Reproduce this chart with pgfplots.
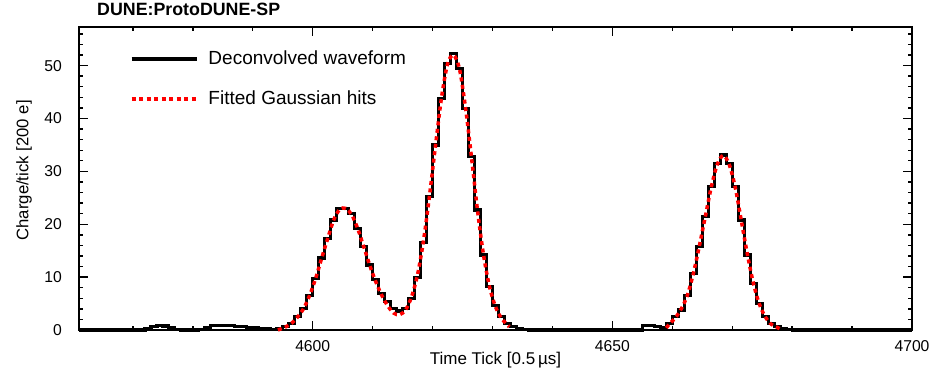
\documentclass[border=0pt]{standalone}
\usepackage{fontspec}
\setmainfont{Liberation Sans}
\usepackage{pgfplots}
\pgfplotsset{compat=1.18}

\begin{document}
\begin{tikzpicture}
\useasboundingbox (-79pt,-40pt) rectangle (865pt,330pt);
\begin{axis}[
  at={(0pt,0pt)}, anchor=south west,
  scale only axis, width=833pt, height=303pt,
  xmin=4561, xmax=4700, ymin=0, ymax=57.3,
  clip=false,
  axis line style={line width=2pt},
  xtick={4600,4650,4700},
  minor xtick={4570,4580,4590,4610,4620,4630,4640,4660,4670,4680,4690},
  ytick={0,10,...,50},
  minor ytick={2,4,6,8,12,14,16,18,22,24,26,28,32,34,36,38,42,44,46,48,52,54,56},
  tick pos=both, xticklabel pos=lower, yticklabel pos=left,
  tick align=inside,
  major tick length=9pt, minor tick length=4.5pt,
  every tick/.style={black, line width=1.4pt},
  /pgf/number format/assume math mode=true,
  /pgf/number format/1000 sep={},
  ticklabel style={font=\fontsize{15.7}{18}\selectfont, inner sep=0pt},
  xticklabel style={anchor=north, yshift=-10pt},
  yticklabel style={anchor=east, xshift=-17pt},
  title={DUNE:ProtoDUNE-SP},
  title style={at={(axis description cs:0.0216,1)}, anchor=base west, yshift=5pt, inner sep=0pt, font=\fontsize{17.8}{20}\selectfont\bfseries},
  xlabel={Time Tick [0.5\,µs]},
  xlabel style={at={(axis description cs:0.5,-0.099)}, anchor=center, inner sep=0pt, font=\fontsize{17}{20}\selectfont},
  ylabel={Charge/tick [200 e]},
  ylabel style={at={(axis description cs:-0.066,0.527)}, anchor=center, inner sep=0pt, font=\fontsize{16.7}{20}\selectfont},
  legend style={at={(axis description cs:0.0612,0.924)}, anchor=north west, draw=none, fill=none, inner sep=0pt, outer sep=0pt, row sep=22pt, column sep=10pt, font=\fontsize{19}{22}\selectfont, nodes={inner sep=0pt, text height=14pt, text depth=4pt}},
  legend cell align=left,
]
\addplot[black, line width=3.2pt, const plot, line join=miter,
  legend image code/.code={\draw[black, line width=3.2pt] (0pt,0pt) -- (65pt,0pt);}]
coordinates {
(4561,0) (4571,0) (4572,0.3) (4573,0.7) (4574,0.85) (4575,0.75) (4576,0.4) (4577,0.1) (4578,0)
(4581,0.1) (4582,0.5) (4583,0.8) (4584,0.9) (4585,0.9) (4586,0.8) (4587,0.7) (4588,0.6) (4589,0.5)
(4590,0.4) (4591,0.3) (4592,0.2) (4593,0.15) (4594,0.2) (4595,0.6) (4596,1.3) (4597,2.5) (4598,4.1)
(4599,6.6) (4600,9.8) (4601,13.6) (4602,17.3) (4603,20.8) (4604,23.0) (4605,23.0) (4606,22.0)
(4607,19.2) (4608,15.8) (4609,12.3) (4610,9.5) (4611,6.9) (4612,5.4) (4613,4.1) (4614,3.6)
(4615,4.1) (4616,6.0) (4617,10.0) (4618,16.5) (4619,25.2) (4620,35.0) (4621,43.8) (4622,50.4)
(4623,52.3) (4624,49.5) (4625,41.9) (4626,32.8) (4627,22.7) (4628,14.2) (4629,8.2) (4630,4.7)
(4631,2.5) (4632,1.3) (4633,0.6) (4634,0.3) (4635,0.1) (4636,0) (4654,0) (4655,0.8) (4656,0.8)
(4657,0.6) (4658,0.5) (4659,1.3) (4660,2.5) (4661,3.8) (4662,6.6) (4663,10.7) (4664,15.8)
(4665,21.4) (4666,27.1) (4667,31.5) (4668,33.1) (4669,31.5) (4670,27.1) (4671,20.8) (4672,14.2)
(4673,8.8) (4674,5.0) (4675,2.5) (4676,1.3) (4677,0.6) (4678,0.3) (4679,0.1) (4680,0) (4700,0)
};
\addlegendentry{Deconvolved waveform}
\addplot[red, line width=3.5pt, smooth, dash pattern=on 4pt off 3.5pt,
  legend image code/.code={\draw[red, line width=3.5pt, dash pattern=on 4pt off 3.5pt] (0pt,0pt) -- (65pt,0pt);}]
coordinates {
(4594.2,0) (4595.5,0.6) (4596.5,1.3) (4597.5,2.5) (4598.5,4.1) (4599.5,6.6) (4600.5,9.8)
(4601.5,13.6) (4602.5,17.3) (4603.5,20.8) (4604.5,22.8) (4605.5,23.0) (4606.5,21.8) (4607.5,19.2)
(4608.5,15.8) (4609.5,12.3) (4610.5,9.2) (4611.5,6.6) (4612.5,4.6) (4613.5,3.2) (4614.5,2.9)
(4615.5,3.8) (4616.5,6.3) (4617.5,10.5) (4618.5,17.0) (4619.5,25.5) (4620.5,35.0) (4621.5,44.0)
(4622.5,50.3) (4623.5,52.0) (4624.5,49.3) (4625.5,42.0) (4626.5,32.6) (4627.5,22.6) (4628.5,14.2)
(4629.5,8.2) (4630.5,4.4) (4631.5,2.2) (4632.8,0.6)
};
\addlegendentry{Fitted Gaussian hits}
\addplot[red, line width=3.5pt, smooth, dash pattern=on 4pt off 3.5pt, forget plot]
coordinates {
(4659.0,0.4) (4659.5,1.1) (4660.5,2.3) (4661.5,4.0) (4662.5,6.5) (4663.5,10.6) (4664.5,15.8)
(4665.5,21.4) (4666.5,27.0) (4667.5,31.3) (4668.5,33.0) (4669.5,31.3) (4670.5,27.0) (4671.5,20.8)
(4672.5,14.5) (4673.5,9.0) (4674.5,5.0) (4675.5,2.5) (4676.5,1.1) (4677.5,0.5) (4678.0,0.2)
};
\end{axis}
\end{tikzpicture}
\end{document}
